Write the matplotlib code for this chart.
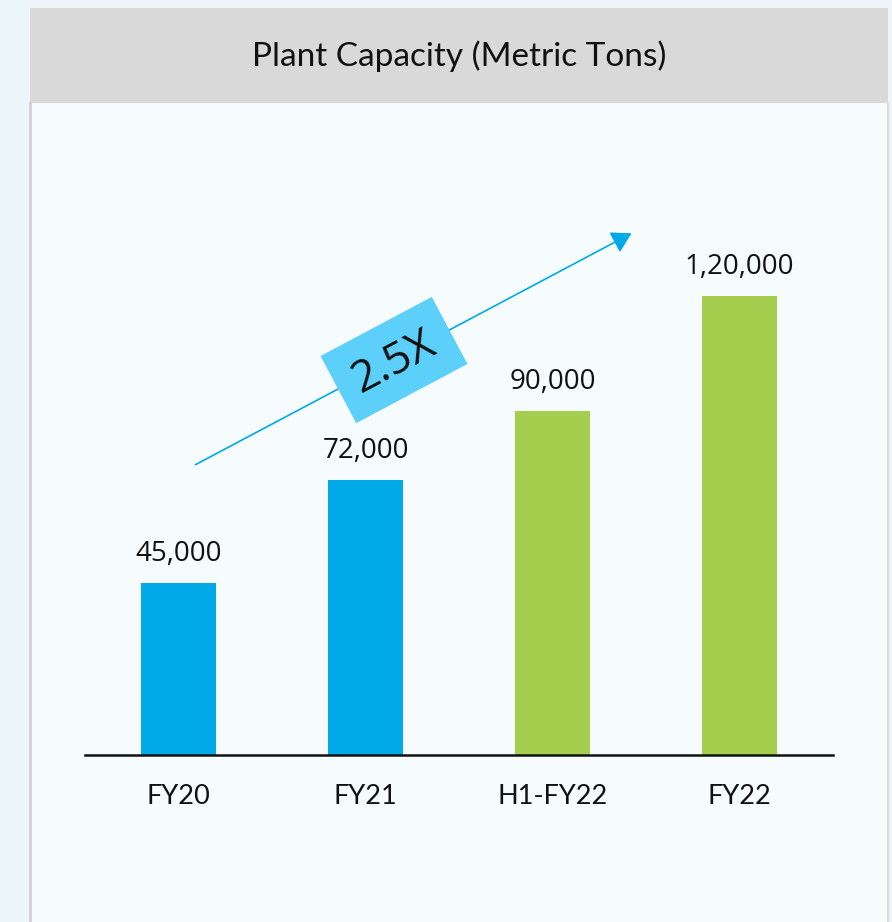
import matplotlib
matplotlib.use("Agg")
import matplotlib.pyplot as plt
from matplotlib.patches import Rectangle, FancyArrowPatch
import matplotlib.transforms as mtransforms

categories = ["FY20", "FY21", "H1-FY22", "FY22"]
values = [45000, 72000, 90000, 120000]
value_labels = ["45,000", "72,000", "90,000", "1,20,000"]
bar_colors = ["#00A9E8", "#00A9E8", "#A6CE4E", "#A6CE4E"]
title = "Plant Capacity (Metric Tons)"
growth_label = "2.5X"

W, H = 892, 922
fig = plt.figure(figsize=(W / 100, H / 100), dpi=100)
fig.patch.set_facecolor("#ecf6fa")

def fx(px):
    return px / W

def fy(py):
    return 1 - py / H

# panel
fig.patches.append(Rectangle((fx(30), 0), fx(888) - fx(30), fy(103), transform=fig.transFigure,
                             facecolor="#f6fbfd", edgecolor="none", zorder=0))
fig.add_artist(plt.Line2D([fx(30), fx(30)], [0, fy(103)], color="#d0d0d0", lw=2, transform=fig.transFigure))
fig.add_artist(plt.Line2D([fx(888), fx(888)], [0, fy(103)], color="#dcdcdc", lw=1.5, transform=fig.transFigure))
# title band
fig.patches.append(Rectangle((fx(30), fy(103)), fx(888) - fx(30), fy(8) - fy(103), transform=fig.transFigure,
                             facecolor="#d9d9d9", edgecolor="none", zorder=1))
fig.text(fx(459), fy(56), title, ha="center", va="center", fontsize=24, family="Lato", color="#111111")

# axes
ymax = 155000
scale = 0.003825  # px per unit
base_px = 755
ax_h = ymax * scale
ax = fig.add_axes([fx(85), fy(base_px), fx(833) - fx(85), ax_h / H])
ax.set_zorder(3)
ax.set_facecolor("none")
x = range(len(categories))
ax.bar(x, values, width=0.40, color=bar_colors, zorder=2)
ax.set_xlim(-0.5, 3.5)
ax.set_ylim(0, ymax)
for s in ["top", "right", "left"]:
    ax.spines[s].set_visible(False)
ax.spines["bottom"].set_linewidth(1.8)
ax.spines["bottom"].set_color("#111111")
ax.set_yticks([])
ax.set_xticks(list(x))
ax.set_xticklabels(categories, fontsize=19.5, family="Lato", color="#111111")
ax.tick_params(axis="x", length=0, pad=21)
for xi, v, lab in zip(x, values, value_labels):
    ax.annotate(lab, (xi, v), xytext=(0, 15), textcoords="offset pixels", ha="center", va="bottom",
                fontsize=20, family="Open Sans", color="#111111")

# growth arrow
arr = FancyArrowPatch((fx(193), fy(466)), (fx(634), fy(232)), transform=fig.transFigure,
                      arrowstyle="-|>,head_length=0.6,head_width=0.35", mutation_scale=20,
                      color="#00A9E8", lw=1.2, zorder=5)
fig.add_artist(arr)

# rotated box (pixel coordinates)
cx, cy = 394, 360
bw, bh = 126, 76
ang = 28
box = Rectangle((cx - bw / 2, H - cy - bh / 2), bw, bh, facecolor="#5CCFFB", edgecolor="none", zorder=6)
box.set_transform(mtransforms.Affine2D().rotate_deg_around(cx, H - cy, ang))
fig.add_artist(box)
fig.text(fx(cx), fy(cy + 2), growth_label, ha="center", va="center", rotation=ang, rotation_mode="anchor",
         fontsize=32, family="Open Sans", color="#111111", zorder=7)

fig.savefig("out.png", dpi=100, facecolor=fig.get_facecolor())
